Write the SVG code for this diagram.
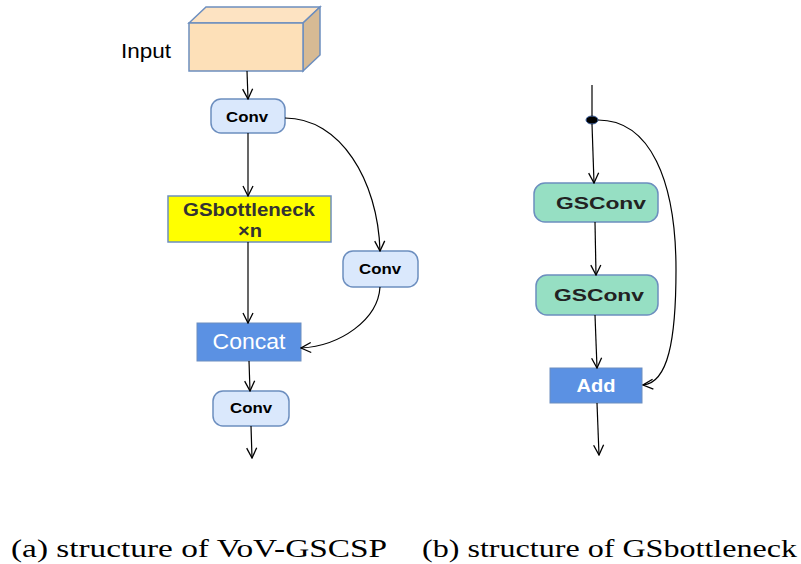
<svg xmlns="http://www.w3.org/2000/svg" width="801" height="564" viewBox="0 0 801 564">
  <defs>
    <marker id="arr" viewBox="0 0 12 12" refX="11" refY="6" markerWidth="12" markerHeight="12" markerUnits="userSpaceOnUse" orient="auto">
      <path d="M1,1 L11,6 L1,11" fill="none" stroke="#000" stroke-width="1.3"/>
    </marker>
  </defs>
  <style>
    .conv { fill: #dae8fc; stroke: #6c8ebf; stroke-width: 1.5; }
    .gs { fill: #96dfc3; stroke: #6c8ebf; stroke-width: 1.5; }
    .blue { fill: #5b91e3; stroke: #6c8ebf; stroke-width: 1; }
    .edge { fill: none; stroke: #000; stroke-width: 1.2; }
    .lbl { font-family: "Liberation Sans", Arial, sans-serif; font-weight: bold; text-anchor: middle; }
    .cap { font-family: "Liberation Serif", "Times New Roman", serif; font-size: 25px; fill: #000; }
  </style>
  <rect width="801" height="564" fill="#fff"/>

  <!-- left panel: VoV-GSCSP -->
  <g id="input">
    <polygon points="189,23 206,7 320,7 303,23" fill="#fde3c2" stroke="#6c8ebf" stroke-width="1.5"/>
    <polygon points="303,23 320,7 320,55 303,71" fill="#d6ba94" stroke="#6c8ebf" stroke-width="1.5"/>
    <rect x="189" y="23" width="114" height="48" fill="#fde0b8" stroke="#6c8ebf" stroke-width="1.5"/>
    <text x="121" y="58" font-family="'Liberation Sans', Arial, sans-serif" font-size="20" fill="#000" textLength="50" lengthAdjust="spacingAndGlyphs">Input</text>
  </g>
  <g id="conv1">
    <rect class="conv" x="211" y="99" width="74" height="34" rx="10"/>
    <text class="lbl" x="247" y="122" font-size="15" textLength="42" lengthAdjust="spacingAndGlyphs">Conv</text>
  </g>
  <g id="gsbottleneck">
    <rect x="168" y="196" width="163" height="46" fill="#ffff00" stroke="#6c8ebf" stroke-width="1.5"/>
    <text class="lbl" x="249" y="216" font-size="18" fill="#333" textLength="132" lengthAdjust="spacingAndGlyphs">GSbottleneck</text>
    <text class="lbl" x="250" y="237" font-size="18" fill="#333" textLength="24" lengthAdjust="spacingAndGlyphs">×n</text>
  </g>
  <g id="conv2">
    <rect class="conv" x="343" y="251" width="75" height="36" rx="10"/>
    <text class="lbl" x="380" y="274" font-size="15" textLength="42" lengthAdjust="spacingAndGlyphs">Conv</text>
  </g>
  <g id="concat">
    <rect class="blue" x="197" y="323" width="104" height="38"/>
    <text x="249" y="349" font-family="'Liberation Sans', Arial, sans-serif" font-size="22" fill="#fff" text-anchor="middle" textLength="73" lengthAdjust="spacingAndGlyphs">Concat</text>
  </g>
  <g id="conv3">
    <rect class="conv" x="213" y="391" width="76" height="35" rx="10"/>
    <text class="lbl" x="251" y="413" font-size="15" textLength="42" lengthAdjust="spacingAndGlyphs">Conv</text>
  </g>

  <!-- right panel: GSbottleneck -->
  <g id="split">
    <ellipse cx="592" cy="120" rx="6" ry="4" fill="#000" stroke="#3a5fa0" stroke-width="1"/>
  </g>
  <g id="gsconv1">
    <rect class="gs" x="534" y="183" width="124" height="39" rx="11"/>
    <text class="lbl" x="601" y="209" font-size="16" fill="#222" textLength="90" lengthAdjust="spacingAndGlyphs">GSConv</text>
  </g>
  <g id="gsconv2">
    <rect class="gs" x="536" y="275" width="122" height="40" rx="11"/>
    <text class="lbl" x="599" y="301" font-size="16" fill="#222" textLength="90" lengthAdjust="spacingAndGlyphs">GSConv</text>
  </g>
  <g id="add">
    <rect class="blue" x="550" y="368" width="92" height="35"/>
    <text class="lbl" x="596" y="392" font-size="19" fill="#fff" textLength="39" lengthAdjust="spacingAndGlyphs">Add</text>
  </g>

  <g id="connectors">
    <line class="edge" x1="247" y1="71" x2="248" y2="99" marker-end="url(#arr)"/>
    <line class="edge" x1="248" y1="133" x2="248" y2="196" marker-end="url(#arr)"/>
    <path class="edge" d="M285,118 C340,118 378,180 380,251" marker-end="url(#arr)"/>
    <line class="edge" x1="248" y1="242" x2="248" y2="323" marker-end="url(#arr)"/>
    <path class="edge" d="M380,287 C378,320 340,346 301,348" marker-end="url(#arr)"/>
    <line class="edge" x1="249" y1="361" x2="250" y2="391" marker-end="url(#arr)"/>
    <line class="edge" x1="251" y1="426" x2="252" y2="458" marker-end="url(#arr)"/>

    <line class="edge" x1="592" y1="85" x2="592" y2="116"/>
    <line class="edge" x1="592" y1="124" x2="594" y2="183" marker-end="url(#arr)"/>
    <path class="edge" d="M598,120 C650,120 676,180 676,270 C676,340 668,383 643,385" marker-end="url(#arr)"/>
    <line class="edge" x1="595" y1="222" x2="596" y2="275" marker-end="url(#arr)"/>
    <line class="edge" x1="595" y1="315" x2="597" y2="368" marker-end="url(#arr)"/>
    <line class="edge" x1="597" y1="403" x2="599" y2="455" marker-end="url(#arr)"/>
  </g>

  <text class="cap" x="11" y="557" textLength="376" lengthAdjust="spacingAndGlyphs">(a) structure of VoV-GSCSP</text>
  <text class="cap" x="422" y="557" textLength="375" lengthAdjust="spacingAndGlyphs">(b) structure of GSbottleneck</text>
</svg>
